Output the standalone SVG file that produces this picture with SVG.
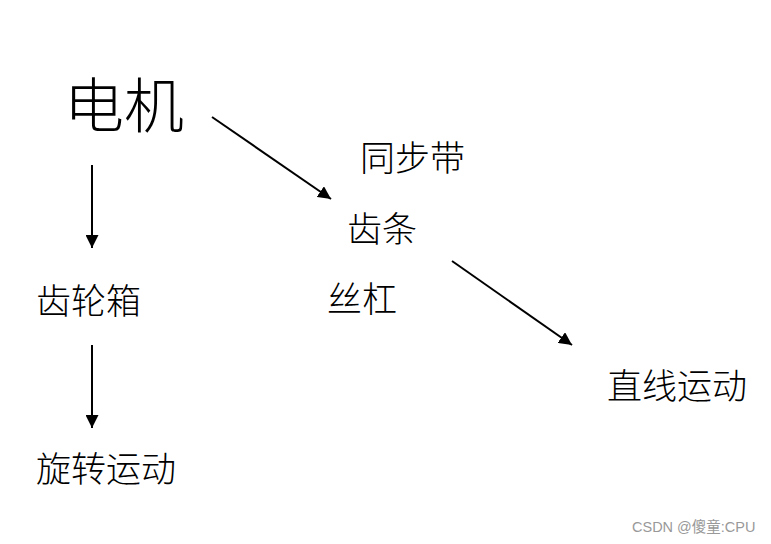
<svg xmlns="http://www.w3.org/2000/svg" width="771" height="544" viewBox="0 0 771 544">
<style>
.t{font-family:"Noto Sans CJK SC","Noto Sans CJK JP",sans-serif;fill:#000;font-weight:300}
.c{stroke:#000;stroke-width:2;fill:none}
.w{font-family:"Liberation Sans","Noto Sans CJK SC",sans-serif;fill:#999;font-size:14.5px}
</style>
<defs>
<marker id="a" viewBox="0 0 10 10" refX="10" refY="5" markerWidth="6.5" markerHeight="6.5" markerUnits="strokeWidth" orient="auto">
<path d="M0,0 L10,5 L0,10 z" fill="#000"/>
</marker>
</defs>
<rect width="771" height="544" fill="#fff"/>
<g id="connectors">
<line class="c" x1="92" y1="165" x2="92" y2="248" marker-end="url(#a)"/>
<line class="c" x1="92" y1="345" x2="92" y2="428" marker-end="url(#a)"/>
<line class="c" x1="212" y1="117" x2="331" y2="199" marker-end="url(#a)"/>
<line class="c" x1="452" y1="261" x2="572" y2="345" marker-end="url(#a)"/>
</g>
<g id="n-motor"><text class="t" x="64" y="128" font-size="60">电机</text></g>
<g id="n-belt"><text class="t" x="360" y="171" font-size="35">同步带</text></g>
<g id="n-rack"><text class="t" x="347" y="242" font-size="35">齿条</text></g>
<g id="n-screw"><text class="t" x="327" y="312" font-size="35">丝杠</text></g>
<g id="n-gearbox"><text class="t" x="36" y="314" font-size="35">齿轮箱</text></g>
<g id="n-rotate"><text class="t" x="36" y="482" font-size="35">旋转运动</text></g>
<g id="n-linear"><text class="t" x="607" y="399" font-size="35">直线运动</text></g>
<text class="w" x="632" y="532">CSDN @傻童:CPU</text>
</svg>
